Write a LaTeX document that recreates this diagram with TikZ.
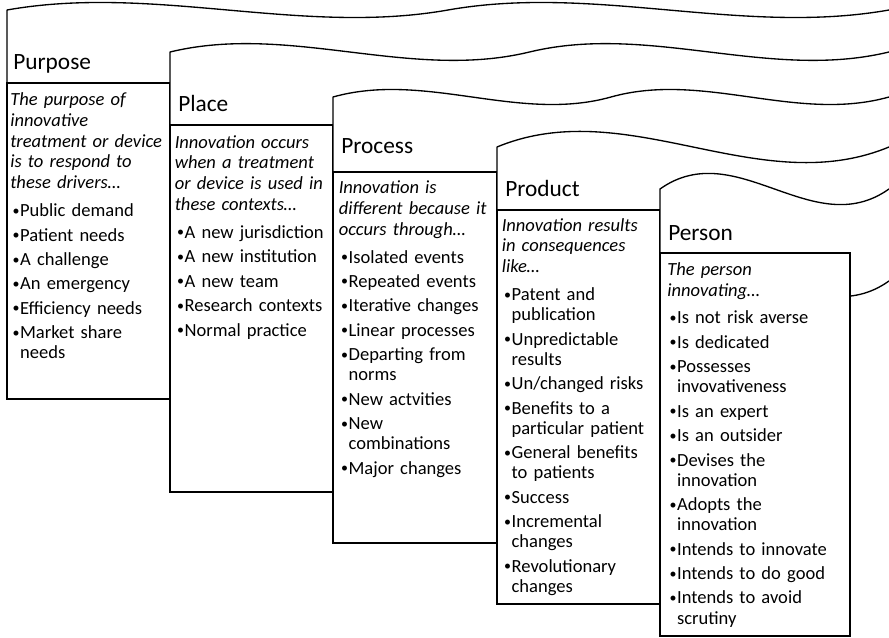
\documentclass[tikz,border=0pt]{standalone}
\usepackage{fontspec}
\setmainfont{Carlito}
\tikzset{
  wavebox/.style={draw=black, line width=1pt, fill=white, line join=round},
  colbox/.style={draw=black, line width=1.35pt, fill=white},
  ttl/.style={anchor=base west, inner sep=0pt, font=\fontsize{17.5}{21}\selectfont},
  body/.style={anchor=north west, inner sep=0pt, text width=200pt, align=left, font=\fontsize{13.9}{15.1}\selectfont},
}
\newcommand\bul{\makebox[7.4pt][l]{\hspace{1.8pt}\raisebox{1.1pt}{\fontsize{10.5}{10.5}\selectfont •}}}
\newcommand\cnt{\hspace*{7.4pt}}
\newcommand\fl{\rule{0pt}{12pt}}
\begin{document}
\begin{tikzpicture}[x=0.75pt,y=-0.75pt]
\useasboundingbox (0,0) rectangle (889,638);
\fill[white] (0,0) rectangle (889,638);
\clip (0,0) rectangle (889,638);
% ---------- Purpose
\path[wavebox] (7,10) .. controls (154,-16) and (301,36) .. (448,10) .. controls (595,-16) and (742,36) .. (889,10) -- (895,10) -- (895,102) -- (889,102) .. controls (742,128) and (595,76) .. (448,102) .. controls (301,128) and (154,76) .. (7,102) -- cycle;
\path[colbox] (7,83) rectangle (170,399);
\node[ttl] (purposeT) at (13,70) {Purpose};
\node[body] (purposeB) at (10,89.5) {\fl\textit{The purpose of}\\[0.45pt]
\textit{innovative}\\[0.45pt]
\textit{treatment or device}\\[0.45pt]
\textit{is to respond to}\\[0.45pt]
\textit{these drivers…}\\[5.9pt]
\bul Public demand\\[3.2pt]
\bul Patient needs\\[3.2pt]
\bul A challenge\\[3.2pt]
\bul An emergency\\[3.2pt]
\bul Efficiency needs\\[3.2pt]
\bul Market share\\
\cnt needs};
% ---------- Place
\path[wavebox] (170,52) .. controls (289.8,23) and (409.7,81) .. (529.5,52) .. controls (649.3,23) and (769.2,81) .. (889,52) -- (895,52) -- (895,144) -- (889,144) .. controls (769.2,173) and (649.3,115) .. (529.5,144) .. controls (409.7,173) and (289.8,115) .. (170,144) -- cycle;
\path[colbox] (170,125) rectangle (333,492);
\node[ttl] (placeT) at (178,112) {Place};
\node[body] (placeB) at (174.5,132) {\fl\textit{Innovation occurs}\\[0.45pt]
\textit{when a treatment}\\[0.45pt]
\textit{or device is used in}\\[0.45pt]
\textit{these contexts…}\\[5.9pt]
\bul A new jurisdiction\\[3.2pt]
\bul A new institution\\[3.2pt]
\bul A new team\\[3.2pt]
\bul Research contexts\\[3.2pt]
\bul Normal practice};
% ---------- Process
\path[wavebox] (333,97) .. controls (425.7,71) and (518.3,123) .. (611,97) .. controls (703.7,71) and (796.3,123) .. (889,97) -- (895,97) -- (895,189) -- (889,189) .. controls (796.3,215) and (703.7,163) .. (611,189) .. controls (518.3,215) and (425.7,163) .. (333,189) -- cycle;
\path[colbox] (333,172) rectangle (497,543);
\node[ttl] (processT) at (341,154) {Process};
\node[body] (processB) at (338.5,177.3) {\fl\textit{Innovation is}\\[0.45pt]
\textit{different because it}\\[0.45pt]
\textit{occurs through…}\\[5.9pt]
\bul Isolated events\\[3.2pt]
\bul Repeated events\\[3.2pt]
\bul Iterative changes\\[3.2pt]
\bul Linear processes\\[3.2pt]
\bul Departing from\\
\cnt norms\\[3.2pt]
\bul New actvities\\[3.2pt]
\bul New\\
\cnt combinations\\[3.2pt]
\bul Major changes};
% ---------- Product
\path[wavebox] (497,147) .. controls (627.7,93) and (758.3,201) .. (889,147) -- (895,147) -- (895,239) -- (889,239) .. controls (758.3,293) and (627.7,185) .. (497,239) -- cycle;
\path[colbox] (497,210) rectangle (660,604);
\node[ttl] (productT) at (505,197) {Product};
\node[body] (productB) at (501.5,215) {\fl\textit{Innovation results}\\[0.45pt]
\textit{in consequences}\\[0.45pt]
\textit{like…}\\[5.9pt]
\bul Patent and\\
\cnt publication\\[3.2pt]
\bul Unpredictable\\
\cnt results\\[3.2pt]
\bul Un/changed risks\\[3.2pt]
\bul Benefits to a\\
\cnt particular patient\\[3.2pt]
\bul General benefits\\
\cnt to patients\\[3.2pt]
\bul Success\\[3.2pt]
\bul Incremental\\
\cnt changes\\[3.2pt]
\bul Revolutionary\\
\cnt changes};
% ---------- Person
\path[wavebox] (660,189) .. controls (736.3,135) and (812.7,243) .. (889,189) -- (895,189) -- (895,281) -- (889,281) .. controls (812.7,335) and (736.3,227) .. (660,281) -- cycle;
\path[colbox] (660,253) rectangle (850,636);
\node[ttl] (personT) at (668,240) {Person};
\node[body] (personB) at (667,259) {\fl\textit{The person}\\[0.45pt]
\textit{innovating…}\\[5.9pt]
\bul Is not risk averse\\[3.2pt]
\bul Is dedicated\\[3.2pt]
\bul Possesses\\
\cnt invovativeness\\[3.2pt]
\bul Is an expert\\[3.2pt]
\bul Is an outsider\\[3.2pt]
\bul Devises the\\
\cnt innovation\\[3.2pt]
\bul Adopts the\\
\cnt innovation\\[3.2pt]
\bul Intends to innovate\\[3.2pt]
\bul Intends to do good\\[3.2pt]
\bul Intends to avoid\\
\cnt scrutiny};
\end{tikzpicture}
\end{document}
